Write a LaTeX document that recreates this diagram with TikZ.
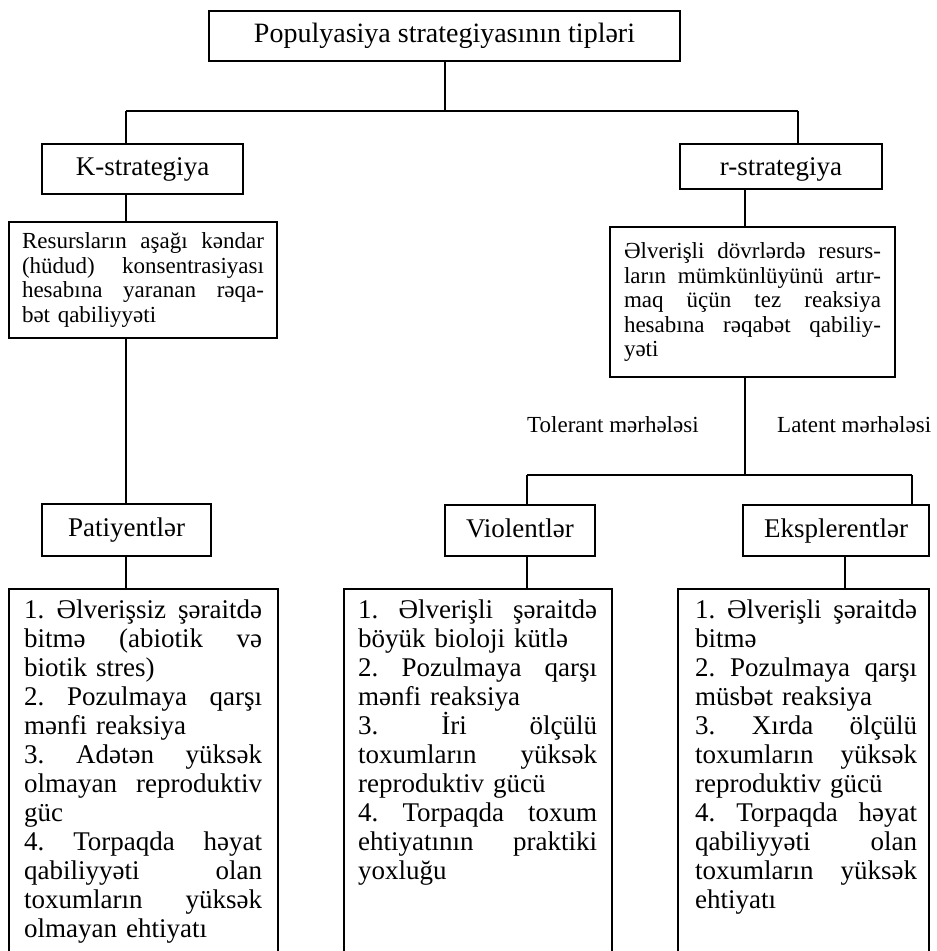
\documentclass[tikz,border=0pt]{standalone}
\usepackage{fontspec}
\setmainfont{Liberation Serif}
\newdimen\lw
\newcommand\jl[1]{\leavevmode\hbox to\lw{#1}}
\frenchspacing
\begin{document}
\begin{tikzpicture}[x=1pt,y=-1pt,
  box/.style={draw, line width=1.3pt, inner sep=0pt},
  hbox/.style={box, font=\fontsize{27}{29}\selectfont, text height=19pt, text depth=6pt},
  conn/.style={line width=1.3pt},
  dfont/.style={font=\fontsize{23}{24.5}\selectfont\frenchspacing},
  listtext/.style={font=\fontsize{27}{29}\selectfont\frenchspacing, inner sep=0pt, align=left, anchor=base west}]
\useasboundingbox[fill=white] (0,0) rectangle (937,951);

% header boxes
\node[hbox, minimum width=471pt, minimum height=50pt, font=\fontsize{28}{30}\selectfont] (T) at (444.5,36) {Populyasiya strategiyasının tipləri};
\node[hbox, minimum width=201pt, minimum height=50pt] (K) at (142.5,169) {K-strategiya};
\node[hbox, minimum width=202pt, minimum height=45pt, text height=18pt, text depth=0pt] (R) at (781,166.5) {r-strategiya};

% description boxes
\node[box, dfont, minimum width=268pt, minimum height=116pt, text width=242pt, align=left] (Kd) at (143,280) {\lw=242pt\parindent=0pt
\jl{Resursların \hfill aşağı \hfill kəndar}\\
\jl{(hüdud) \hfill konsentrasiyası}\\
\jl{hesabına \hfill yaranan \hfill rəqa-}\\
bət qabiliyyəti};
\node[box, dfont, minimum width=285pt, minimum height=150pt, text width=257pt, align=left] (Rd) at (752.5,302) {\lw=257pt\parindent=0pt
\jl{Əlverişli \hfill dövrlərdə \hfill resurs-}\\
\jl{ların \hfill mümkünlüyünü \hfill artır-}\\
\jl{maq \hfill üçün \hfill tez \hfill reaksiya}\\
\jl{hesabına \hfill rəqabət \hfill qabiliy-}\\
yəti};

% phase labels
\node[dfont, inner sep=0pt, anchor=base west] (tol) at (527,432) {Tolerant mərhələsi};
\node[dfont, inner sep=0pt, anchor=base west] (lat) at (777,432) {Latent mərhələsi};

% group boxes
\node[hbox, minimum width=169pt, minimum height=52pt] (P) at (126.5,530) {Patiyentlər};
\node[hbox, minimum width=150pt, minimum height=51pt] (V) at (520,530.5) {Violentlər};
\node[hbox, minimum width=186pt, minimum height=51pt] (E) at (836,530.5) {Eksplerentlər};

% list frames (open at the bottom edge of the picture)
\node[box, minimum width=269pt, minimum height=372pt] (L1) at (143.5,775) {};
\node[box, minimum width=268pt, minimum height=372pt] (L2) at (478,775) {};
\node[box, minimum width=251pt, minimum height=372pt] (L3) at (803.5,775) {};

% list texts
\node[listtext, text width=238pt] (L1t) at (24,618) {\lw=238pt\parindent=0pt
\jl{1. \hfill Əlverişsiz \hfill şəraitdə}\\
\jl{bitmə \hfill (abiotik \hfill və}\\
biotik stres)\\
\jl{2. \hfill Pozulmaya \hfill qarşı}\\
mənfi reaksiya\\
\jl{3. \hfill Adətən \hfill yüksək}\\
\jl{olmayan \hfill reproduktiv}\\
güc\\
\jl{4. \hfill Torpaqda \hfill həyat}\\
\jl{qabiliyyəti \hfill olan}\\
\jl{toxumların \hfill yüksək}\\
olmayan ehtiyatı};
\node[listtext, text width=239pt] (L2t) at (358,618) {\lw=239pt\parindent=0pt
\jl{1. \hfill Əlverişli \hfill şəraitdə}\\
böyük bioloji kütlə\\
\jl{2. \hfill Pozulmaya \hfill qarşı}\\
mənfi reaksiya\\
\jl{3. \hfill İri \hfill ölçülü}\\
\jl{toxumların \hfill yüksək}\\
reproduktiv gücü\\
\jl{4. \hfill Torpaqda \hfill toxum}\\
\jl{ehtiyatının \hfill praktiki}\\
yoxluğu};
\node[listtext, text width=222pt] (L3t) at (695,618) {\lw=222pt\parindent=0pt
\jl{1. \hfill Əlverişli \hfill şəraitdə}\\
bitmə\\
\jl{2. \hfill Pozulmaya \hfill qarşı}\\
müsbət reaksiya\\
\jl{3. \hfill Xırda \hfill ölçülü}\\
\jl{toxumların \hfill yüksək}\\
reproduktiv gücü\\
\jl{4. \hfill Torpaqda \hfill həyat}\\
\jl{qabiliyyəti \hfill olan}\\
\jl{toxumların \hfill yüksək}\\
ehtiyatı};

% junction coordinates
\coordinate (j0) at (445,111);
\coordinate (jl) at (126,111);
\coordinate (jr) at (798,111);
\coordinate (j2) at (745,475);
\coordinate (jv) at (527,475);
\coordinate (je) at (912,475);
\coordinate (e3) at (845,570);

% connectors
\draw[conn] (T.south -| j0) -- (j0);
\draw[conn] (jl) -- (jr);
\draw[conn] (jl) -- (jl |- K.north);
\draw[conn] (jr) -- (jr |- R.north);
\draw[conn] (K.south -| jl) -- (Kd.north -| jl);
\draw[conn] (Kd.south -| jl) -- (P.north -| jl);
\draw[conn] (P.south -| jl) -- (L1.north -| jl);
\draw[conn] (R.south -| j2) -- (Rd.north -| j2);
\draw[conn] (Rd.south -| j2) -- (j2);
\draw[conn] (jv) -- (je);
\draw[conn] (jv) -- (jv |- V.north);
\draw[conn] (je) -- (je |- E.north);
\draw[conn] (V.south -| jv) -- (L2.north -| jv);
\draw[conn] (E.south -| e3) -- (L3.north -| e3);
\end{tikzpicture}
\end{document}
